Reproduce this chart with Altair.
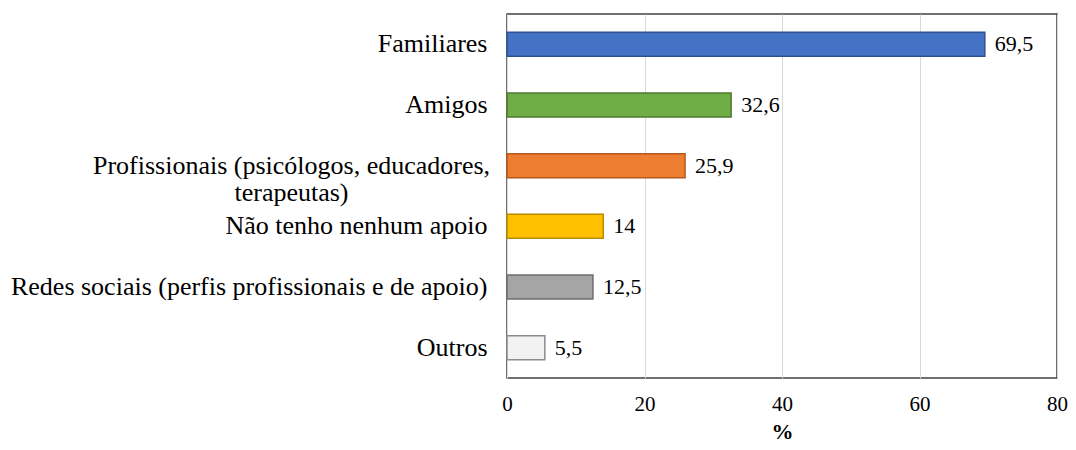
import altair as alt
import pandas as pd

categories = [
    "Familiares",
    "Amigos",
    "Profissionais (psicólogos, educadores,|terapeutas)",
    "Não tenho nenhum apoio",
    "Redes sociais (perfis profissionais e de apoio)",
    "Outros",
]
values = [69.5, 32.6, 25.9, 14, 12.5, 5.5]
value_labels = ["69,5", "32,6", "25,9", "14", "12,5", "5,5"]
colors = ["#4472C4", "#70AD47", "#ED7D31", "#FFC000", "#A5A5A5", "#F2F2F2"]
strokes = ["#2F528F", "#4E7A31", "#B45A1E", "#B88B00", "#6E6E6E", "#8C8C8C"]

df = pd.DataFrame({
    "cat": categories,
    "val": values,
    "lab": value_labels,
    "color": colors,
    "stroke": strokes,
})

FONT = "'Liberation Serif', 'Times New Roman', 'DejaVu Serif', serif"
PROF = categories[2]

y_enc = alt.Y(
    "cat:N",
    sort=categories,
    title=None,
    scale=alt.Scale(paddingInner=0, paddingOuter=0),
    axis=alt.Axis(
        labelExpr="split(datum.value, '|')",
        labelFont=FONT,
        labelFontSize=26,
        labelColor="#000000",
        labelLimit=700,
        labelLineHeight=27,
        labelAlign={"condition": {"test": f"datum.value == '{PROF}'", "value": "center"}, "value": "right"},
        labelPadding={"condition": {"test": f"datum.value == '{PROF}'", "value": 216}, "value": 20},
        ticks=False,
        domain=False,
        grid=False,
    ),
)

x_enc = alt.X(
    "val:Q",
    title="%",
    scale=alt.Scale(domain=[0, 80], nice=False),
    axis=alt.Axis(
        values=[0, 20, 40, 60, 80],
        labelFont=FONT,
        labelFontSize=21,
        labelColor="#000000",
        labelPadding=15,
        labelFlush=False,
        ticks=False,
        domain=False,
        grid=True,
        gridColor="#D9D9D9",
        titleFont=FONT,
        titleFontSize=22,
        titleFontWeight="bold",
        titleColor="#000000",
        titlePadding=7,
    ),
)

bars = alt.Chart(df).mark_bar(size=24, strokeWidth=1.5).encode(
    x=x_enc,
    y=y_enc,
    color=alt.Color("color:N", scale=None),
    stroke=alt.Stroke("stroke:N", scale=None),
)

text = alt.Chart(df).mark_text(
    align="left", baseline="middle", dx=10, font=FONT, fontSize=22, color="#000000"
).encode(
    x="val:Q",
    y=alt.Y("cat:N", sort=categories),
    text="lab:N",
)

chart = (
    alt.layer(bars, text)
    .properties(
        width=1060,
        height=434,
        autosize=alt.AutoSizeParams(type="fit", contains="padding"),
        padding={"left": 2, "top": 6, "right": 0, "bottom": 0},
    )
    .configure_view(stroke="#404040", strokeWidth=1.5)
)

chart.save("out.html", embed_options={"renderer": "svg", "actions": False})
